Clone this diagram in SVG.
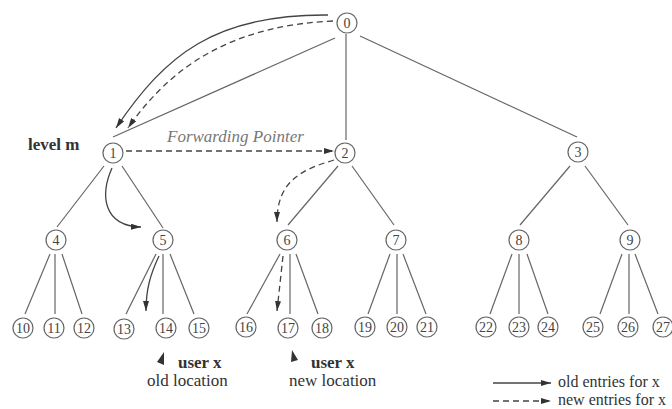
<svg xmlns="http://www.w3.org/2000/svg" width="672" height="409" viewBox="0 0 672 409">
<style>
.n circle{fill:#fff;stroke:#666;stroke-width:1.2}
.n text{font-family:"Liberation Serif",serif;font-size:14px;fill:#444;text-anchor:middle}
.e line{stroke:#666;stroke-width:1.2}
.a{fill:none;stroke:#444;stroke-width:1.3}
.d{stroke-dasharray:6,4}
.t{font-family:"Liberation Serif",serif;font-size:17px;fill:#333}
.b{font-weight:bold}
.lg{font-family:"Liberation Serif",serif;font-size:16px;fill:#333}
</style>
<defs>
<marker id="ah" viewBox="0 0 10 6" refX="10" refY="3" markerWidth="10" markerHeight="6" markerUnits="userSpaceOnUse" orient="auto">
<path d="M0,0 L10,3 L0,6 Z" fill="#333"/>
</marker>
</defs>
<rect width="672" height="409" fill="#fff"/>
<g id="edges" class="e">
<line x1="335" y1="38" x2="113" y2="137"/>
<line x1="346" y1="34" x2="346" y2="140"/>
<line x1="360" y1="36" x2="577" y2="137"/>
<line x1="104" y1="166" x2="57" y2="227"/>
<line x1="122" y1="166" x2="163" y2="228"/>
<line x1="338" y1="166" x2="288" y2="225"/>
<line x1="352" y1="166" x2="394" y2="225"/>
<line x1="570" y1="166" x2="520" y2="225"/>
<line x1="585" y1="166" x2="628" y2="225"/>
<line x1="50" y1="254" x2="25" y2="314"/>
<line x1="55" y1="254" x2="55" y2="314"/>
<line x1="62" y1="254" x2="82" y2="314"/>
<line x1="156" y1="254" x2="126" y2="314"/>
<line x1="163" y1="254" x2="163" y2="314"/>
<line x1="170" y1="254" x2="194" y2="314"/>
<line x1="280" y1="254" x2="247" y2="314"/>
<line x1="290" y1="254" x2="290" y2="314"/>
<line x1="296" y1="254" x2="318" y2="314"/>
<line x1="390" y1="254" x2="368" y2="314"/>
<line x1="397" y1="254" x2="397" y2="314"/>
<line x1="403" y1="254" x2="426" y2="314"/>
<line x1="512" y1="254" x2="490" y2="314"/>
<line x1="519" y1="254" x2="519" y2="314"/>
<line x1="527" y1="254" x2="548" y2="314"/>
<line x1="622" y1="254" x2="600" y2="314"/>
<line x1="629" y1="254" x2="629" y2="314"/>
<line x1="635" y1="254" x2="658" y2="314"/>
</g>
<g id="arrows">
<path class="a" d="M328,15 C215,14 165,55 116,128" marker-end="url(#ah)"/>
<path class="a d" d="M333,21 C240,25 175,60 128,128" marker-end="url(#ah)"/>
<path class="a d" d="M126,151 L334,151" marker-end="url(#ah)"/>
<path class="a" d="M112,168 C100,195 103,226 141,227" marker-end="url(#ah)"/>
<path class="a" d="M159,256 C150,275 146,290 146,311" marker-end="url(#ah)"/>
<path class="a d" d="M334,160 C300,170 277,182 277,222" marker-end="url(#ah)"/>
<path class="a d" d="M283,256 L277,311" marker-end="url(#ah)"/>
<polygon points="164,352 157,362 164,365" fill="#333"/>
<polygon points="292,350 291,362 298,360" fill="#333"/>
</g>
<g id="n0" class="n"><circle cx="347" cy="23" r="10"/><text x="347" y="28">0</text></g>
<g id="n1" class="n"><circle cx="113" cy="153" r="10"/><text x="113" y="158">1</text></g>
<g id="n2" class="n"><circle cx="345" cy="153" r="10"/><text x="345" y="158">2</text></g>
<g id="n3" class="n"><circle cx="578" cy="152" r="10"/><text x="578" y="157">3</text></g>
<g id="n4" class="n"><circle cx="56" cy="240" r="10"/><text x="56" y="245">4</text></g>
<g id="n5" class="n"><circle cx="163" cy="240" r="10"/><text x="163" y="245">5</text></g>
<g id="n6" class="n"><circle cx="287" cy="240" r="10"/><text x="287" y="245">6</text></g>
<g id="n7" class="n"><circle cx="396" cy="240" r="10"/><text x="396" y="245">7</text></g>
<g id="n8" class="n"><circle cx="519" cy="240" r="10"/><text x="519" y="245">8</text></g>
<g id="n9" class="n"><circle cx="630" cy="240" r="10"/><text x="630" y="245">9</text></g>
<g id="n10" class="n"><circle cx="23" cy="328" r="10"/><text x="23" y="333">10</text></g>
<g id="n11" class="n"><circle cx="54" cy="328" r="10"/><text x="54" y="333">11</text></g>
<g id="n12" class="n"><circle cx="84" cy="328" r="10"/><text x="84" y="333">12</text></g>
<g id="n13" class="n"><circle cx="124" cy="329" r="10"/><text x="124" y="334">13</text></g>
<g id="n14" class="n"><circle cx="166" cy="328" r="10"/><text x="166" y="333">14</text></g>
<g id="n15" class="n"><circle cx="199" cy="328" r="10"/><text x="199" y="333">15</text></g>
<g id="n16" class="n"><circle cx="246" cy="327" r="10"/><text x="246" y="332">16</text></g>
<g id="n17" class="n"><circle cx="288" cy="328" r="10"/><text x="288" y="333">17</text></g>
<g id="n18" class="n"><circle cx="322" cy="328" r="10"/><text x="322" y="333">18</text></g>
<g id="n19" class="n"><circle cx="365" cy="327" r="10"/><text x="365" y="332">19</text></g>
<g id="n20" class="n"><circle cx="397" cy="327" r="10"/><text x="397" y="332">20</text></g>
<g id="n21" class="n"><circle cx="427" cy="327" r="10"/><text x="427" y="332">21</text></g>
<g id="n22" class="n"><circle cx="486" cy="327" r="10"/><text x="486" y="332">22</text></g>
<g id="n23" class="n"><circle cx="519" cy="327" r="10"/><text x="519" y="332">23</text></g>
<g id="n24" class="n"><circle cx="548" cy="327" r="10"/><text x="548" y="332">24</text></g>
<g id="n25" class="n"><circle cx="593" cy="327" r="10"/><text x="593" y="332">25</text></g>
<g id="n26" class="n"><circle cx="628" cy="327" r="10"/><text x="628" y="332">26</text></g>
<g id="n27" class="n"><circle cx="663" cy="327" r="10"/><text x="663" y="332">27</text></g>
<g id="labels">
<text class="t b" x="28" y="150">level m</text>
<text class="t" x="167" y="142" font-style="italic" style="fill:#777">Forwarding Pointer</text>
<text class="t b" x="178" y="368">user x</text>
<text class="t" x="147" y="386">old location</text>
<text class="t b" x="311" y="368">user x</text>
<text class="t" x="289" y="386">new location</text>
</g>
<g id="legend">
<line class="a" x1="493" y1="383" x2="551" y2="383" marker-end="url(#ah)"/>
<line class="a d" x1="493" y1="401" x2="551" y2="401" marker-end="url(#ah)"/>
<text class="lg" x="558" y="387">old entries for x</text>
<text class="lg" x="558" y="405">new entries for x</text>
</g>
</svg>
